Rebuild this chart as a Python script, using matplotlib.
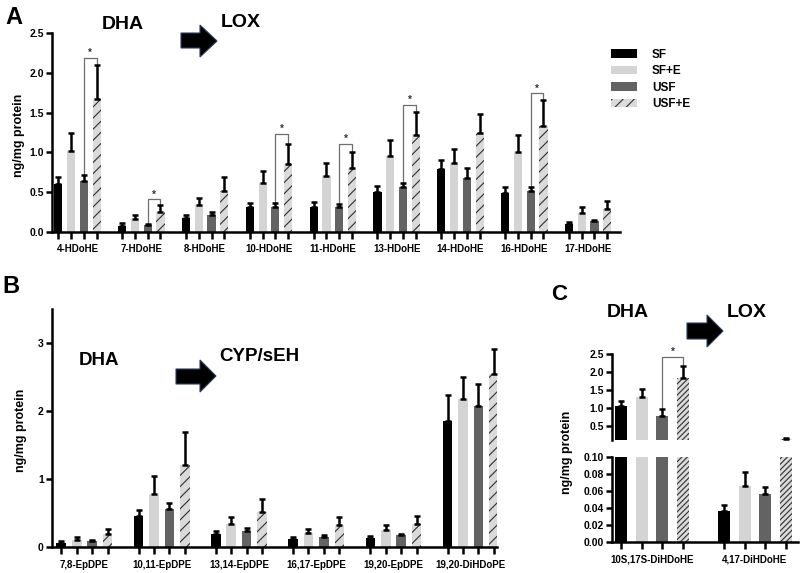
import matplotlib
matplotlib.use('Agg')
import matplotlib.pyplot as plt
import numpy as np
from matplotlib.patches import Polygon, Patch

plt.rcParams['font.family'] = ['Liberation Sans', 'DejaVu Sans']
plt.rcParams['font.weight'] = 'bold'
plt.rcParams['hatch.linewidth'] = 0.8

# ---------------- data ----------------
series = ['SF', 'SF+E', 'USF', 'USF+E']
colors = ['#000000', '#d4d4d4', '#636363', '#dadada']

a_labels = ['4-HDoHE', '7-HDoHE', '8-HDoHE', '10-HDoHE', '11-HDoHE',
            '13-HDoHE', '14-HDoHE', '16-HDoHE', '17-HDoHE']
a_sf = [0.60, 0.08, 0.17, 0.31, 0.31, 0.50, 0.79, 0.49, 0.105]
a_sf_err = [0.09, 0.03, 0.04, 0.05, 0.07, 0.08, 0.12, 0.08, 0.025]
a_sfe = [1.02, 0.16, 0.34, 0.62, 0.70, 0.95, 0.87, 1.00, 0.24]
a_sfe_err = [0.23, 0.05, 0.09, 0.15, 0.17, 0.21, 0.17, 0.22, 0.07]
a_usf = [0.64, 0.085, 0.21, 0.32, 0.32, 0.57, 0.68, 0.52, 0.135]
a_usf_err = [0.08, 0.015, 0.035, 0.04, 0.03, 0.05, 0.13, 0.05, 0.015]
a_usfe = [1.67, 0.245, 0.52, 0.86, 0.81, 1.22, 1.24, 1.33, 0.29]
a_usfe_err = [0.43, 0.09, 0.17, 0.25, 0.19, 0.29, 0.24, 0.33, 0.10]
a_sig_groups = [0, 1, 3, 4, 5, 7]
a_sig_heights = [2.19, 0.41, 1.23, 1.11, 1.60, 1.74]
a_yticks = [0.0, 0.5, 1.0, 1.5, 2.0, 2.5]

b_labels = ['7,8-EpDPE', '10,11-EpDPE', '13,14-EpDPE', '16,17-EpDPE',
            '19,20-EpDPE', '19,20-DiHDoPE']
b_sf = [0.06, 0.45, 0.19, 0.12, 0.13, 1.86]
b_sf_err = [0.03, 0.10, 0.04, 0.03, 0.03, 0.38]
b_sfe = [0.11, 0.78, 0.34, 0.21, 0.25, 2.18]
b_sfe_err = [0.04, 0.27, 0.10, 0.06, 0.07, 0.32]
b_usf = [0.09, 0.56, 0.24, 0.15, 0.17, 2.08]
b_usf_err = [0.02, 0.09, 0.04, 0.02, 0.02, 0.32]
b_usfe = [0.19, 1.20, 0.51, 0.32, 0.34, 2.55]
b_usfe_err = [0.08, 0.49, 0.19, 0.12, 0.12, 0.36]
b_yticks = [0, 1, 2, 3]

c_labels = ['10S,17S-DiHDoHE', '4,17-DiHDoHE']
c_sf = [1.04, 0.036]
c_sf_err = [0.15, 0.007]
c_sfe = [1.31, 0.066]
c_sfe_err = [0.22, 0.016]
c_usf = [0.76, 0.056]
c_usf_err = [0.20, 0.009]
c_usfe = [1.84, 0.13]
c_usfe_err = [0.32, 0.03]
c_sig_groups = [0]
c_sig_heights = [2.43]
c_top_yticks = [0.5, 1.0, 1.5, 2.0, 2.5]
c_bot_yticks = [0.00, 0.02, 0.04, 0.06, 0.08, 0.10]

# ---------------- helpers ----------------
W, H = 800, 573
fig = plt.figure(figsize=(8, 5.73), dpi=100)


def fx(px):
    return px / W


def fy(py):
    return 1 - py / H


def axes_px(l, t, r, b):
    return fig.add_axes([fx(l), fy(b), (r - l) / W, (b - t) / H])


def style_axes(ax, show_x=True):
    for s in ['top', 'right']:
        ax.spines[s].set_visible(False)
    ax.spines['left'].set_linewidth(1.8)
    ax.spines['bottom'].set_linewidth(1.8)
    if not show_x:
        ax.spines['bottom'].set_visible(False)
        ax.tick_params(axis='x', which='both', bottom=False, labelbottom=False)
    ax.tick_params(axis='y', direction='out', length=4, width=1.8,
                   labelsize=7.5, pad=2)
    ax.tick_params(axis='x', which='major', direction='out', length=5,
                   width=1.8)
    ax.tick_params(axis='x', which='minor', length=0, labelsize=7, pad=9)
    ax.set_facecolor('none')


def draw_bars(ax, vals, errs, width, hatch, ncat, ymin=0.0):
    base = np.arange(ncat) * 5
    positions = []
    for j in range(4):
        x = base + j
        positions.extend(list(x))
        kw = dict(color=colors[j], width=width, linewidth=0, zorder=2)
        if j == 3:
            kw.update(hatch=hatch, edgecolor='#303030')
        ax.bar(x, vals[j], **kw)
        v = np.asarray(vals[j], float)
        e = np.asarray(errs[j], float)
        keep = (v + e) > ymin
        if keep.any():
            ax.errorbar(x[keep], v[keep],
                        yerr=[np.zeros(keep.sum()), e[keep]], fmt='none',
                        ecolor='black', elinewidth=1.8, capsize=2.3,
                        capthick=1.8, zorder=3)
    return base, sorted(positions)


def set_xlabels(ax, base, positions, labels):
    ax.set_xticks(positions)
    ax.set_xticklabels([])
    ax.set_xticks(base + 1.5, minor=True)
    ax.set_xticklabels(labels, minor=True, fontsize=7, fontweight='bold')


def brackets(ax, groups, heights, usf, usf_err, usfe, usfe_err):
    for g, h in zip(groups, heights):
        x1, x2 = g * 5 + 2, g * 5 + 3
        y1 = usf[g] + usf_err[g]
        y2 = usfe[g] + usfe_err[g]
        ax.plot([x1, x1, x2, x2], [y1, h, h, y2], color='#6e6e6e', lw=0.9,
                zorder=1)
        ax.text((x1 + x2) / 2, h, '*', ha='center', va='bottom',
                fontsize=7, color='#333333')


def arrow(x0, xh, x1, bt, bb, ht, hb):
    ym = (ht + hb) / 2
    pts = [(x0, bt), (xh, bt), (xh, ht), (x1, ym), (xh, hb), (xh, bb), (x0, bb)]
    pts = [(fx(a), fy(b)) for a, b in pts]
    fig.add_artist(Polygon(pts, closed=True, transform=fig.transFigure,
                           facecolor='black', edgecolor='#2c3e5c', lw=0.8))


# ---------------- panel A ----------------
axA = axes_px(52, 33, 620, 232)
style_axes(axA)
baseA, posA = draw_bars(axA, [a_sf, a_sfe, a_usf, a_usfe],
                        [a_sf_err, a_sfe_err, a_usf_err, a_usfe_err],
                        0.64, '///', len(a_labels))
brackets(axA, a_sig_groups, a_sig_heights, a_usf, a_usf_err, a_usfe, a_usfe_err)
axA.set_xlim(-0.5, 44)
axA.set_ylim(0, 2.5)
axA.set_yticks(a_yticks)
axA.set_yticklabels([f'{v:.1f}' for v in a_yticks])
set_xlabels(axA, baseA, posA, a_labels)

handles = []
for j in range(4):
    if j == 3:
        handles.append(Patch(facecolor=colors[j], hatch='///',
                             edgecolor='#303030', linewidth=0))
    else:
        handles.append(Patch(facecolor=colors[j], linewidth=0))
fig.legend(handles, series, loc='upper left',
           bbox_to_anchor=(fx(600), fy(38)), bbox_transform=fig.transFigure,
           frameon=False, handlelength=2.2, handleheight=0.75,
           handletextpad=1.3, labelspacing=0.38,
           prop={'weight': 'bold', 'size': 8.5})

fig.text(fx(5), fy(24), 'A', fontsize=17, fontweight='bold', va='baseline')
fig.text(fx(102), fy(29), 'DHA', fontsize=14, fontweight='bold', va='baseline')
fig.text(fx(221), fy(27), 'LOX', fontsize=14, fontweight='bold', va='baseline')
arrow(181, 200, 217, 33, 48, 25, 57)
fig.text(fx(19), fy(135), 'ng/mg protein', rotation=90, fontsize=9,
         fontweight='bold', ha='center', va='center')

# ---------------- panel B ----------------
axB = axes_px(52, 309, 497, 547)
style_axes(axB)
baseB, posB = draw_bars(axB, [b_sf, b_sfe, b_usf, b_usfe],
                        [b_sf_err, b_sfe_err, b_usf_err, b_usfe_err],
                        0.62, '///', len(b_labels))
axB.set_xlim(-0.6, 28.2)
axB.set_ylim(0, 3.5)
axB.set_yticks(b_yticks)
axB.set_yticklabels([str(v) for v in b_yticks])
set_xlabels(axB, baseB, posB, b_labels)

fig.text(fx(2), fy(293), 'B', fontsize=17, fontweight='bold', va='baseline')
fig.text(fx(79), fy(365), 'DHA', fontsize=13.5, fontweight='bold', va='baseline')
fig.text(fx(219), fy(361), 'CYP/sEH', fontsize=13.5, fontweight='bold',
         va='baseline')
arrow(176, 200, 216, 369, 384, 360, 392)
fig.text(fx(21), fy(430), 'ng/mg protein', rotation=90, fontsize=9,
         fontweight='bold', ha='center', va='center')

# ---------------- panel C ----------------
c_vals = [c_sf, c_sfe, c_usf, c_usfe]
c_errs = [c_sf_err, c_sfe_err, c_usf_err, c_usfe_err]

axCt = axes_px(612, 354, 798, 440)
style_axes(axCt, show_x=False)
draw_bars(axCt, c_vals, c_errs, 0.58, '//////', len(c_labels), ymin=0.1)
brackets(axCt, c_sig_groups, c_sig_heights, c_usf, c_usf_err, c_usfe, c_usfe_err)
axCt.set_xlim(-0.45, 8.6)
axCt.set_ylim(0.1, 2.5)
axCt.set_yticks(c_top_yticks)
axCt.set_yticklabels([f'{v:.1f}' for v in c_top_yticks])

axCb = axes_px(612, 457, 798, 542)
style_axes(axCb)
baseC, posC = draw_bars(axCb, c_vals, c_errs, 0.58, '//////', len(c_labels))
axCb.set_xlim(-0.45, 8.6)
axCb.set_ylim(0, 0.1)
axCb.set_yticks(c_bot_yticks)
axCb.set_yticklabels([f'{v:.2f}' for v in c_bot_yticks])
set_xlabels(axCb, baseC, posC, c_labels)

fig.text(fx(551), fy(300), 'C', fontsize=16, fontweight='bold', va='baseline')
fig.text(fx(607), fy(317), 'DHA', fontsize=14, fontweight='bold', va='baseline')
fig.text(fx(727), fy(317), 'LOX', fontsize=14, fontweight='bold', va='baseline')
arrow(687, 707, 723, 323, 339, 315, 347)
fig.text(fx(567), fy(452), 'ng/mg protein', rotation=90, fontsize=9,
         fontweight='bold', ha='center', va='center')

fig.savefig('out.png', dpi=100)
